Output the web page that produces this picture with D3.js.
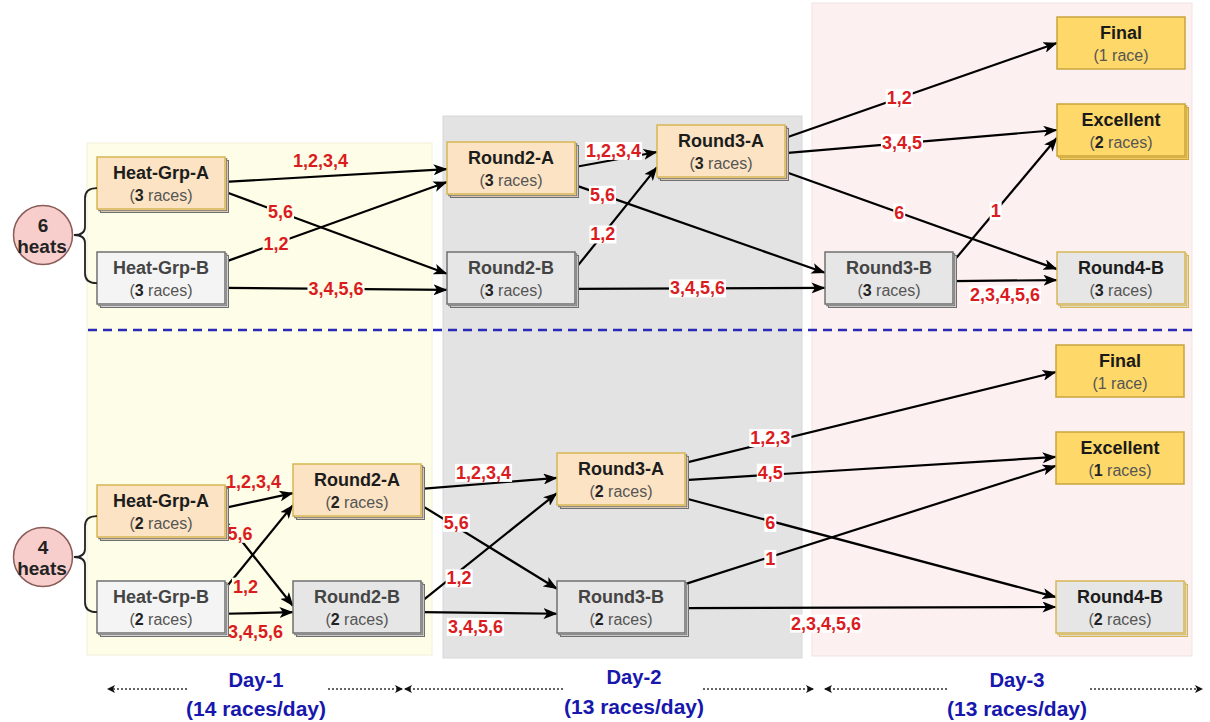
<!DOCTYPE html>
<html>
<head>
<meta charset="utf-8">
<script src="https://cdn.jsdelivr.net/npm/d3@7"></script>
<style>
	body { margin: 0; background: #fff; }
	svg { display: block; font-family: "Liberation Sans", Arial, sans-serif; }
</style>
</head>
<body>
<svg id="chart" width="1210" height="722"></svg>
<script>

/*-------------------------------------------------------*/
/*------------------------ data -------------------------*/
/*-------------------------------------------------------*/

const days = ['Day-1', 'Day-2', 'Day-3']
const racesPerDay = [14, 13, 13]
const heatCounts = [6, 4]

// nodes of the 6-heat plan (top) and the 4-heat plan (bottom)
const topNodes = [
	{id: 'hgA', title: 'Heat-Grp-A', races: 3, unit: 'races', stage: 'heat', lane: 'heat', kind: 'A'},
	{id: 'hgB', title: 'Heat-Grp-B', races: 3, unit: 'races', stage: 'heat', lane: 'low', kind: 'B'},
	{id: 'r2A', title: 'Round2-A', races: 3, unit: 'races', stage: 'r2', lane: 'r2', kind: 'A'},
	{id: 'r2B', title: 'Round2-B', races: 3, unit: 'races', stage: 'r2', lane: 'low', kind: 'B2'},
	{id: 'r3A', title: 'Round3-A', races: 3, unit: 'races', stage: 'r3a', lane: 'r3', kind: 'A'},
	{id: 'r3B', title: 'Round3-B', races: 3, unit: 'races', stage: 'r3b', lane: 'low', kind: 'B2'},
	{id: 'fin', title: 'Final', races: 1, unit: 'race', stage: 'end', lane: 'final', kind: 'medal'},
	{id: 'exc', title: 'Excellent', races: 2, unit: 'races', stage: 'end', lane: 'exc', kind: 'medal'},
	{id: 'r4B', title: 'Round4-B', races: 3, unit: 'races', stage: 'end', lane: 'low', kind: 'R4'}
]
const bottomNodes = [
	{id: 'hgA', title: 'Heat-Grp-A', races: 2, unit: 'races', stage: 'heat', lane: 'heat', kind: 'A'},
	{id: 'hgB', title: 'Heat-Grp-B', races: 2, unit: 'races', stage: 'heat', lane: 'low', kind: 'B'},
	{id: 'r2A', title: 'Round2-A', races: 2, unit: 'races', stage: 'r2', lane: 'r2', kind: 'A'},
	{id: 'r2B', title: 'Round2-B', races: 2, unit: 'races', stage: 'r2', lane: 'low', kind: 'B2'},
	{id: 'r3A', title: 'Round3-A', races: 2, unit: 'races', stage: 'r3', lane: 'r3', kind: 'A'},
	{id: 'r3B', title: 'Round3-B', races: 2, unit: 'races', stage: 'r3', lane: 'low', kind: 'B2'},
	{id: 'fin', title: 'Final', races: 1, unit: 'race', stage: 'end', lane: 'final', kind: 'medal'},
	{id: 'exc', title: 'Excellent', races: 1, unit: 'races', stage: 'end', lane: 'exc', kind: 'medal'},
	{id: 'r4B', title: 'Round4-B', races: 2, unit: 'races', stage: 'end', lane: 'low', kind: 'R4'}
]

// [from, to, finishing places that move on]
const topEdges = [
	['hgA', 'r2A', '1,2,3,4'],
	['hgA', 'r2B', '5,6'],
	['hgB', 'r2A', '1,2'],
	['hgB', 'r2B', '3,4,5,6'],
	['r2A', 'r3A', '1,2,3,4'],
	['r2A', 'r3B', '5,6'],
	['r2B', 'r3A', '1,2'],
	['r2B', 'r3B', '3,4,5,6'],
	['r3A', 'fin', '1,2'],
	['r3A', 'exc', '3,4,5'],
	['r3A', 'r4B', '6'],
	['r3B', 'exc', '1'],
	['r3B', 'r4B', '2,3,4,5,6']
]
const bottomEdges = [
	['hgA', 'r2A', '1,2,3,4'],
	['hgA', 'r2B', '5,6'],
	['hgB', 'r2A', '1,2'],
	['hgB', 'r2B', '3,4,5,6'],
	['r2A', 'r3A', '1,2,3,4'],
	['r2A', 'r3B', '5,6'],
	['r2B', 'r3A', '1,2'],
	['r2B', 'r3B', '3,4,5,6'],
	['r3A', 'fin', '1,2,3'],
	['r3A', 'exc', '4,5'],
	['r3A', 'r4B', '6'],
	['r3B', 'exc', '1'],
	['r3B', 'r4B', '2,3,4,5,6']
]

/*-------------------------------------------------------*/
/*----------------------- layout ------------------------*/
/*-------------------------------------------------------*/

const nodeW = 128
const nodeH = 52

// edge ports: [exit frac on source, entry frac on target, label t, label dy]
const topPorts = [
	[0.48, 0.52, 0.43, -15], [0.67, 0.42, 0.25, 0], [0.19, 0.77, 0.23, 0], [0.69, 0.73, 0.5, 0],
	[0.48, 0.52, 0.47, -9], [0.83, 0.40, 0.11, 0], [0.33, 0.81, 0.34, 0], [0.71, 0.69, 0.49, 0],
	[0.25, 0.5, 0.42, 0], [0.54, 0.5, 0.43, 0], [0.9, 0.33, 0.42, 0], [0.19, 0.65, 0.41, 0],
	[0.56, 0.54, 0.5, 14]
]
const bottomPorts = [
	[0.44, 0.56, 0.42, -20], [0.67, 0.48, 0.22, -5], [0.15, 0.79, 0.3, 23], [0.63, 0.6, 0.45, 19],
	[0.48, 0.48, 0.46, -11], [0.79, 0.15, 0.26, -4], [0.4, 0.77, 0.28, 7], [0.6, 0.63, 0.4, 14],
	[0.19, 0.52, 0.23, -4], [0.52, 0.48, 0.23, -2], [0.87, 0.31, 0.23, 2], [0.06, 0.65, 0.23, 2],
	[0.52, 0.5, 0.38, 16]
]

const xTop = d3.scaleOrdinal().domain(['heat', 'r2', 'r3a', 'r3b', 'end']).range([97, 447, 657, 825, 1057])
const yTop = d3.scaleOrdinal().domain(['final', 'exc', 'r3', 'r2', 'heat', 'low']).range([17, 104, 125, 142, 157, 252])
const xBot = d3.scaleOrdinal().domain(['heat', 'r2', 'r3', 'end']).range([97, 293, 557, 1056])
const yBot = d3.scaleOrdinal().domain(['final', 'exc', 'r3', 'r2', 'heat', 'low']).range([345, 432, 453, 464, 485, 581])

// day panels
const panelX = d3.scaleOrdinal().domain(days).range([[87, 432], [443, 802], [812, 1192]])
const panelY = d3.scaleOrdinal().domain(days).range([[143, 655], [116, 658], [3, 656]])
const panelFill = d3.scaleOrdinal().domain(days).range(['#fefde7', '#e3e3e3', '#fdf0f0'])

// footer
const footX = d3.scaleOrdinal().domain(days).range([256, 634, 1017])
const footArrows = d3.scaleOrdinal().domain(days).range([[[187, 108], [328, 402]], [[563, 405], [703, 813]], [[947, 825], [1090, 1202]]])

const styles = {
	A: {fill: '#fbe3c3', stroke: '#d6b656', back: '#6f6f6f', title: '#1c1c1c'},
	B: {fill: '#f4f4f4', stroke: '#707070', back: '#6f6f6f', title: '#444'},
	B2: {fill: '#e6e6e6', stroke: '#707070', back: '#6f6f6f', title: '#444'},
	medal: {fill: '#fed868', stroke: '#c9a43c', back: '#c9a43c', title: '#1a1a1a'},
	R4: {fill: '#e6e6e6', stroke: '#d6b656', back: '#d6b656', title: '#1c1c1c'}
}

const svg = d3.select('#chart')

const defs = svg.append('defs')
defs.append('marker')
	.attr('id', 'arrow')
	.attr('viewBox', '0 0 14 11')
	.attr('refX', 13.5)
	.attr('refY', 5.5)
	.attr('markerWidth', 14)
	.attr('markerHeight', 11)
	.attr('markerUnits', 'userSpaceOnUse')
	.attr('orient', 'auto')
	.append('path')
	.attr('d', 'M0,0 L14,5.5 L0,11 L3.5,5.5 Z')
	.attr('fill', '#000')
defs.append('marker')
	.attr('id', 'dotArrow')
	.attr('viewBox', '0 0 8 8')
	.attr('refX', 7)
	.attr('refY', 4)
	.attr('markerWidth', 8)
	.attr('markerHeight', 8)
	.attr('markerUnits', 'userSpaceOnUse')
	.attr('orient', 'auto')
	.append('path')
	.attr('d', 'M0,0 L8,4 L0,8 L2,4 Z')
	.attr('fill', '#111')

/*-------------------------------------------------------*/
/*----------------------- panels ------------------------*/
/*-------------------------------------------------------*/

svg.selectAll('.panel')
	.data(days)
	.enter()
	.append('rect')
	.attr('class', 'panel')
	.attr('x', d => panelX(d)[0])
	.attr('y', d => panelY(d)[0])
	.attr('width', d => panelX(d)[1] - panelX(d)[0])
	.attr('height', d => panelY(d)[1] - panelY(d)[0])
	.attr('fill', d => panelFill(d))
	.attr('stroke', d => d3.color(panelFill(d)).darker(0.15))
	.attr('stroke-width', 1)

// separator between the two plans
svg.append('line')
	.attr('x1', 88).attr('x2', 1196)
	.attr('y1', 330).attr('y2', 330)
	.attr('stroke', '#2a2ab8')
	.attr('stroke-width', 2.5)
	.attr('stroke-dasharray', '9,6')

function labelBg(x) {
	return x < panelX('Day-1')[1] ? panelFill('Day-1') : '#fff'
}

/*-------------------------------------------------------*/
/*------------------------ plans ------------------------*/
/*-------------------------------------------------------*/

function drawPlan(nodes, edges, ports, xs, ys, heats, circleY) {
	const g = svg.append('g')
	const pos = {}
	nodes.forEach(n => { pos[n.id] = {x: xs(n.stage), y: ys(n.lane)} })

	// edges
	const edgeData = edges.map((e, i) => {
		const s = pos[e[0]], t = pos[e[1]], p = ports[i]
		const x1 = s.x + nodeW, y1 = s.y + p[0] * nodeH
		const x2 = t.x, y2 = t.y + p[1] * nodeH
		return {x1, y1, x2, y2, label: e[2], lx: x1 + (x2 - x1) * p[2], ly: y1 + (y2 - y1) * p[2] + p[3]}
	})

	g.selectAll('.edge')
		.data(edgeData)
		.enter()
		.append('line')
		.attr('class', 'edge')
		.attr('x1', d => d.x1).attr('y1', d => d.y1)
		.attr('x2', d => d.x2).attr('y2', d => d.y2)
		.attr('stroke', '#000')
		.attr('stroke-width', 2.2)
		.attr('marker-end', 'url(#arrow)')

	const labels = g.selectAll('.elabel')
		.data(edgeData)
		.enter()
		.append('g')
		.attr('class', 'elabel')
	labels.append('rect')
	labels.append('text')
		.attr('x', d => d.lx)
		.attr('y', d => d.ly)
		.attr('text-anchor', 'middle')
		.attr('dominant-baseline', 'central')
		.attr('font-size', 18)
		.attr('font-weight', 'bold')
		.attr('fill', '#db1c1f')
		.text(d => d.label)
	labels.each(function(d) {
		const bb = d3.select(this).select('text').node().getBBox()
		d3.select(this).select('rect')
			.attr('x', bb.x - 1).attr('y', bb.y + 1)
			.attr('width', bb.width + 2).attr('height', bb.height - 2)
			.attr('fill', labelBg(d.lx))
	})

	// nodes
	const node = g.selectAll('.node')
		.data(nodes)
		.enter()
		.append('g')
		.attr('class', 'node')
		.attr('transform', d => `translate(${pos[d.id].x},${pos[d.id].y})`)

	// several races -> stacked card
	;[3.5, 1.75].forEach(off => {
		node.filter(d => d.races > 1)
			.append('rect')
			.attr('x', off).attr('y', off)
			.attr('width', nodeW).attr('height', nodeH)
			.attr('fill', d => styles[d.kind].fill)
			.attr('stroke', d => styles[d.kind].back)
			.attr('stroke-width', 1)
	})
	node.append('rect')
		.attr('width', nodeW).attr('height', nodeH)
		.attr('fill', d => styles[d.kind].fill)
		.attr('stroke', d => styles[d.kind].stroke)
		.attr('stroke-width', 1.5)

	node.append('text')
		.attr('x', nodeW / 2)
		.attr('y', 16)
		.attr('text-anchor', 'middle')
		.attr('dominant-baseline', 'central')
		.attr('font-size', 18)
		.attr('font-weight', 'bold')
		.attr('fill', d => styles[d.kind].title)
		.text(d => d.title)

	const sub = node.append('text')
		.attr('x', nodeW / 2)
		.attr('y', 38)
		.attr('text-anchor', 'middle')
		.attr('dominant-baseline', 'central')
		.attr('font-size', 16)
		.attr('fill', '#555')
	sub.append('tspan').text('(')
	sub.append('tspan')
		.attr('font-weight', d => d.unit === 'race' ? 'normal' : 'bold')
		.attr('fill', d => d.unit === 'race' ? '#555' : '#222')
		.text(d => d.races)
	sub.append('tspan').text(d => ' ' + d.unit + ')')

	// brace joining the two heat groups
	const top = pos.hgA.y + nodeH * 0.6, bot = pos.hgB.y + nodeH * 0.6
	const bx = 85, ex = 97, tip = 74
	g.append('path')
		.attr('d', `M${ex},${top} Q${bx},${top} ${bx},${top + 10} L${bx},${circleY - 8} Q${bx},${circleY} ${tip},${circleY} Q${bx},${circleY} ${bx},${circleY + 8} L${bx},${bot - 10} Q${bx},${bot} ${ex},${bot}`)
		.attr('fill', 'none')
		.attr('stroke', '#222')
		.attr('stroke-width', 1.8)

	g.append('circle')
		.attr('cx', 43).attr('cy', circleY).attr('r', 29.5)
		.attr('fill', '#f8cecc')
		.attr('stroke', '#8a5b57')
		.attr('stroke-width', 1.5)
	g.append('text')
		.attr('x', 43).attr('y', circleY - 10)
		.attr('text-anchor', 'middle').attr('dominant-baseline', 'central')
		.attr('font-size', 19).attr('font-weight', 'bold').attr('fill', '#222')
		.text(heats)
	g.append('text')
		.attr('x', 42).attr('y', circleY + 11)
		.attr('text-anchor', 'middle').attr('dominant-baseline', 'central')
		.attr('font-size', 19).attr('font-weight', 'bold').attr('fill', '#222')
		.text('heats')
}

drawPlan(topNodes, topEdges, topPorts, xTop, yTop, heatCounts[0], 235)
drawPlan(bottomNodes, bottomEdges, bottomPorts, xBot, yBot, heatCounts[1], 557)

/*-------------------------------------------------------*/
/*----------------------- footer ------------------------*/
/*-------------------------------------------------------*/

const foot = svg.selectAll('.foot')
	.data(days)
	.enter()
	.append('g')
	.attr('class', 'foot')

foot.selectAll('line')
	.data(d => footArrows(d))
	.enter()
	.append('line')
	.attr('x1', d => d[0]).attr('x2', d => d[1])
	.attr('y1', 689).attr('y2', 689)
	.attr('stroke', '#333')
	.attr('stroke-width', 1.3)
	.attr('stroke-dasharray', '2,2')
	.attr('marker-end', 'url(#dotArrow)')

foot.append('text')
	.attr('x', d => footX(d))
	.attr('y', (d, i) => i === 1 ? 677 : 680)
	.attr('text-anchor', 'middle')
	.attr('dominant-baseline', 'central')
	.attr('font-family', '"Liberation Sans Narrow", "Arial Narrow", sans-serif')
	.attr('font-size', 20)
	.attr('font-weight', 'bold')
	.attr('fill', '#1717ad')
	.attr('textLength', 55)
	.attr('lengthAdjust', 'spacingAndGlyphs')
	.text(d => d)

foot.append('text')
	.attr('x', d => footX(d))
	.attr('y', (d, i) => i === 1 ? 707 : 709)
	.attr('text-anchor', 'middle')
	.attr('dominant-baseline', 'central')
	.attr('font-family', '"Liberation Sans Narrow", "Arial Narrow", sans-serif')
	.attr('font-size', 20)
	.attr('font-weight', 'bold')
	.attr('fill', '#1717ad')
	.attr('textLength', 140)
	.attr('lengthAdjust', 'spacingAndGlyphs')
	.text((d, i) => `(${racesPerDay[i]} races/day)`)

</script>
</body>
</html>
